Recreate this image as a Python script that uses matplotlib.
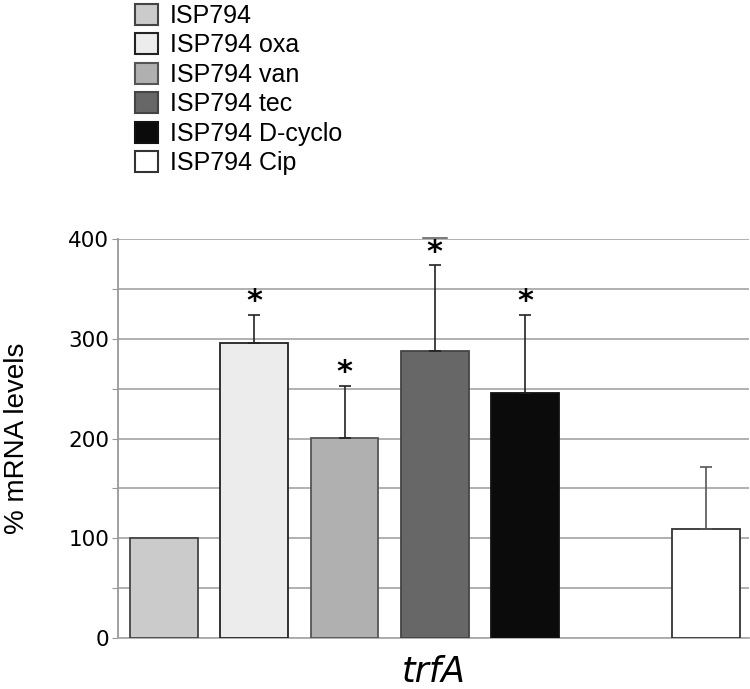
import matplotlib
matplotlib.use("Agg")
import matplotlib.pyplot as plt
from matplotlib.patches import Patch
import numpy as np

# data
labels = ["ISP794", "ISP794 oxa", "ISP794 van", "ISP794 tec", "ISP794 D-cyclo", "ISP794 Cip"]
slots = [0, 1, 2, 3, 4, 6]          # slot 5 is left empty in the original
values = [100, 296, 201, 288, 246, 109]
err_top = [0, 324, 253, 374, 324, 171]
signif = [False, True, True, True, True, False]
stray_cap = {3: 401}                # odd extra cap drawn above the tec bar
colors = ["#cbcbcb", "#ececec", "#b0b0b0", "#676767", "#0b0b0b", "#ffffff"]
edge = ["#444444", "#222222", "#555555", "#444444", "#111111", "#333333"]
err_colors = ["#222222", "#222222", "#222222", "#222222", "#222222", "#555555"]
yticks = [0, 100, 200, 300, 400]

plt.rcParams["font.family"] = ["Liberation Sans", "DejaVu Sans"]

fig = plt.figure(figsize=(7.5, 6.89), dpi=100)
ax = fig.add_axes([0.157, 0.074, 0.842, 0.579])

x = np.array(slots, dtype=float)
v = np.array(values, dtype=float)
ax.bar(x, v, width=0.75, color=colors, edgecolor=edge, linewidth=1.3, zorder=3)

err = np.array(err_top, dtype=float) - v
for xi, vi, ei, ec in zip(x, v, err, err_colors):
    if ei > 0:
        ax.errorbar(xi, vi, yerr=[[0], [ei]], fmt="none", ecolor=ec,
                    elinewidth=1.2, capsize=4, capthick=1.2, zorder=4)

for xi, top, s in zip(x, err_top, signif):
    if s:
        ax.text(xi, top + 13, "*", ha="center", va="center", fontsize=22,
                fontweight="bold", family="DejaVu Sans", zorder=5)

for i, yv in stray_cap.items():
    ax.plot([x[i] - 0.13, x[i] + 0.13], [yv, yv], color="#555555", lw=1.1,
            clip_on=False, zorder=5)

ax.set_xlim(-0.51, 6.48)
ax.set_ylim(0, 400)
ax.set_yticks(np.arange(0, 401, 50))
ax.set_yticklabels([str(t) if t in yticks else "" for t in range(0, 401, 50)],
                   fontsize=15.5, family="DejaVu Sans")
ax.yaxis.grid(True, color="#aaaaaa", linewidth=1.3, zorder=0)
ax.set_axisbelow(True)
ax.tick_params(axis="y", length=4, color="#999999", pad=2)
ax.set_xticks([])
for side in ["top", "right"]:
    ax.spines[side].set_visible(False)
ax.spines["left"].set_color("#999999")
ax.spines["bottom"].set_color("#aaaaaa")
ax.spines["left"].set_linewidth(1.3)
ax.spines["bottom"].set_linewidth(1.3)
ax.set_ylabel("% mRNA levels", fontsize=20, labelpad=28)
ax.set_xlabel("trfA", fontsize=25, style="italic", family="DejaVu Sans", labelpad=12)

handles = [Patch(facecolor=c, edgecolor=e, linewidth=1.5) for c, e in zip(colors, edge)]
fig.legend(handles, labels, loc="upper left", bbox_to_anchor=(0.167, 1.009),
           frameon=False, fontsize=18, handlelength=0.9, handleheight=0.9,
           handletextpad=0.5, labelspacing=0.22, borderaxespad=0)

fig.savefig("out.png", dpi=100)
